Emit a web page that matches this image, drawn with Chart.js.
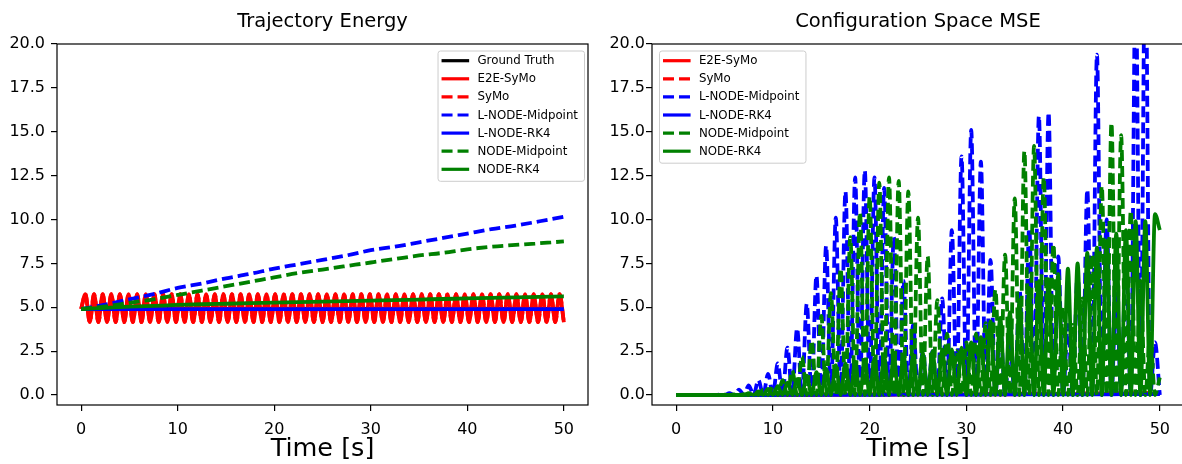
<!DOCTYPE html>
<html>
<head>
<meta charset="utf-8">
<script src="https://cdn.jsdelivr.net/npm/chart.js@4/dist/chart.umd.min.js"></script>
<style>
  body { margin: 0; background: #fff; width: 1182px; height: 464px; overflow: hidden; position: relative; }
  canvas { position: absolute; top: 0; }
  #energyChart { left: 0; }
  #mseChart { left: 591px; }
</style>
</head>
<body>
<canvas id="energyChart" width="591" height="464"></canvas>
<canvas id="mseChart" width="595" height="464"></canvas>
<script>
//* DATA *//
let xTicks = [0, 10, 20, 30, 40, 50];
let yTicks = [0, 2.5, 5, 7.5, 10, 12.5, 15, 17.5, 20];

// coarse time grid for the smooth curves
let tCoarse = [0, 2.5, 5, 7.5, 10, 12.5, 15, 17.5, 20, 22.5, 25, 27.5, 30, 32.5, 35, 37.5, 40, 42.5, 45, 47.5, 50];

// Trajectory Energy
let groundTruthEnergy = [4.9, 4.9, 4.9, 4.9, 4.9, 4.9, 4.9, 4.9, 4.9, 4.9, 4.9, 4.9, 4.9, 4.9, 4.9, 4.9, 4.9, 4.9, 4.9, 4.9, 4.9];
let lnodeRk4Energy = [4.89, 4.89, 4.89, 4.89, 4.89, 4.89, 4.89, 4.89, 4.89, 4.89, 4.89, 4.89, 4.89, 4.89, 4.89, 4.89, 4.89, 4.89, 4.89, 4.89, 4.89];
let lnodeMidEnergy = [4.9, 5.15, 5.45, 5.75, 6.1, 6.35, 6.65, 6.9, 7.2, 7.45, 7.7, 7.95, 8.25, 8.45, 8.7, 8.95, 9.2, 9.45, 9.65, 9.9, 10.15];
let nodeMidEnergy = [4.9, 5.05, 5.25, 5.45, 5.7, 5.95, 6.2, 6.45, 6.7, 6.95, 7.15, 7.35, 7.55, 7.75, 7.95, 8.1, 8.3, 8.45, 8.55, 8.65, 8.75];
let nodeRk4Energy = [4.9, 4.97, 5.03, 5.08, 5.13, 5.17, 5.2, 5.23, 5.26, 5.29, 5.32, 5.35, 5.38, 5.41, 5.44, 5.47, 5.5, 5.53, 5.56, 5.59, 5.62];

// E2E-SyMo energy swings, one value per half period (peak / trough)
let e2eEnergy = [4.9,
  5.75, 4.15, 5.75, 4.15, 5.75, 4.15, 5.75, 4.15, 5.75, 4.15,
  5.75, 4.15, 5.75, 4.15, 5.75, 4.15, 5.75, 4.15, 5.75, 4.15,
  5.75, 4.15, 5.75, 4.15, 5.75, 4.15, 5.75, 4.15, 5.75, 4.15,
  5.75, 4.15, 5.75, 4.15, 5.75, 4.15, 5.75, 4.15, 5.75, 4.15,
  5.75, 4.15, 5.75, 4.15, 5.75, 4.15, 5.75, 4.15, 5.75, 4.15,
  5.75, 4.15, 5.75, 4.15, 5.75, 4.15, 5.75, 4.15, 5.75, 4.15,
  5.75, 4.15, 5.75, 4.15, 5.75, 4.15, 5.75, 4.15, 5.75, 4.15,
  5.75, 4.15, 5.75, 4.15, 5.75, 4.15, 5.75, 4.15, 5.75, 4.15,
  5.75, 4.15, 5.75, 4.15, 5.75, 4.15, 5.75, 4.15, 5.75, 4.15,
  5.75, 4.15, 5.75, 4.15, 5.75, 4.15, 5.75, 4.15, 5.75, 4.15,
  5.75, 4.15, 5.75, 4.15, 5.75, 4.15, 5.75, 4.15, 5.75, 4.15,
  5.75, 4.15
];
let symoEnergy = e2eEnergy;
let tEnergySwing = e2eEnergy.map((v, i) => i * 50 / (e2eEnergy.length - 1));

// Configuration Space MSE, half-second samples (peaks and troughs)
let tMse = [];
for (let i = 0; i <= 100; i++) { tMse.push(i * 0.5); }

let lnodeMidMse = [
  0, 0, 0, 0, 0, 0, 0, 0, 0, 0.02,
  0, 0.1, 0, 0.3, 0, 0.55, 0, 0.85, 0, 1.2,
  0, 1.8, 0, 2.7, 0, 3.8, 0, 5.2, 0, 6.8,
  0, 8.5, 0, 10.1, 0, 11.6, 0, 12.4, 0, 12.8,
  0, 12.4, 0, 11.8, 0, 9.0, 0, 6.5, 0, 4.0,
  0, 2.5, 0, 2.5, 0, 5.5, 0, 9.4, 0, 13.6,
  0, 15.1, 0, 13.3, 0, 7.7, 0, 4.0, 0, 3.0,
  0, 6.0, 0, 9.5, 0, 15.9, 0, 16.1, 0, 7.9,
  0, 4.0, 0, 7.0, 0, 11.7, 0, 19.4, 0, 10.0,
  0, 6.0, 0, 8.0, 0, 24.0, 0, 26.0, 0, 3.0,
  0
];
let nodeMidMse = [
  0, 0, 0, 0, 0, 0, 0, 0, 0, 0,
  0.02, 0, 0.03, 0, 0.05, 0, 0.15, 0, 0.3, 0,
  0.5, 0, 0.85, 0, 1.4, 0, 2.2, 0, 3.1, 0,
  4.5, 0, 5.8, 0, 7.2, 0, 9.0, 0, 10.4, 0,
  11.3, 0, 12.1, 0, 12.4, 0, 12.2, 0, 11.6, 0,
  10.1, 0, 7.9, 0, 5.4, 0, 3.5, 0, 2.5, 0,
  3.0, 0, 3.5, 0, 4.1, 0, 6.0, 0, 8.0, 0,
  11.2, 0, 13.9, 0, 14.2, 0, 12.4, 0, 8.6, 0,
  5.0, 0, 4.0, 0, 5.5, 0, 8.0, 0, 11.9, 0,
  15.5, 0, 14.8, 0, 10.5, 0, 6.5, 0, 3.5, 0,
  1.0
];
let nodeRk4Mse = [
  0, 0, 0, 0, 0, 0, 0, 0, 0, 0,
  0, 0, 0, 0, 0, 0.1, 0, 0.2, 0, 0.35,
  0, 0.5, 0, 0.7, 0, 0.9, 0, 1.1, 0, 1.3,
  0, 1.5, 0, 1.7, 0, 1.8, 0, 1.9, 0, 2.0,
  0, 2.1, 0, 2.2, 0, 2.2, 0, 2.3, 0, 2.3,
  0, 2.4, 0, 2.5, 0, 2.6, 0, 2.6, 0, 2.7,
  0, 3.0, 0, 3.3, 0, 4.2, 0, 4.4, 0, 4.7,
  0, 5.4, 0, 6.1, 0, 6.5, 0, 6.6, 0, 6.9,
  0, 7.2, 0, 7.5, 0, 8.1, 0, 8.4, 0, 8.8,
  0, 9.2, 0, 9.4, 0, 9.9, 0, 9.9, 0, 10.3,
  9.4
];
let e2eMse = [0, 0, 0, 0, 0.01, 0.01, 0.01, 0.02, 0.02, 0.02, 0.03, 0.03, 0.03, 0.04, 0.04, 0.05, 0.05, 0.05, 0.06, 0.06, 0.07];
let symoMse = [0, 0, 0.01, 0.01, 0.02, 0.02, 0.03, 0.03, 0.04, 0.04, 0.05, 0.05, 0.06, 0.06, 0.07, 0.08, 0.08, 0.09, 0.1, 0.11, 0.12];
let lnodeRk4Mse = [0, 0, 0, 0, 0, 0.01, 0.01, 0.01, 0.01, 0.02, 0.02, 0.02, 0.02, 0.03, 0.03, 0.03, 0.04, 0.04, 0.04, 0.05, 0.05];

//* STYLE *//
let FONT = '"DejaVu Sans", sans-serif';
let RED = '#ff0000';
let BLUE = '#0000ff';
let GREEN = '#008000';
let BLACK = '#000000';

//* HELPERS *//
function makeSet(label, times, values, color, dashed, order) {
  return {
    label: label,
    data: values.map((v, i) => ({ x: times[i], y: v })),
    borderColor: color,
    backgroundColor: color,
    borderWidth: 3.8,
    borderDash: dashed ? [11, 5] : [],
    borderJoinStyle: 'round',
    cubicInterpolationMode: 'monotone',
    pointRadius: 0,
    fill: false,
    order: order,
    clip: 0
  };
}

function makeScales(yWidth, yPad) {
  let tickGrid = { display: true, drawOnChartArea: false, drawTicks: true, tickLength: 6, color: BLACK, lineWidth: 1.2 };
  return {
    x: {
      type: 'linear',
      min: -2.5,
      max: 52.5,
      afterBuildTicks: s => { s.ticks = xTicks.map(v => ({ value: v })); },
      afterFit: s => { s.height = 59; },
      grid: tickGrid,
      border: { display: false },
      ticks: { font: { family: FONT, size: 16 }, color: BLACK, padding: 9, maxRotation: 0, autoSkip: false },
      title: { display: true, text: 'Time [s]', color: BLACK, font: { family: FONT, size: 25.5, lineHeight: 1 }, padding: { top: 0, bottom: 2.3 } }
    },
    y: {
      type: 'linear',
      min: -0.57,
      max: 20,
      afterBuildTicks: s => { s.ticks = yTicks.map(v => ({ value: v })); },
      afterFit: s => { s.width = yWidth; },
      grid: tickGrid,
      border: { display: false },
      ticks: { font: { family: FONT, size: 16 }, color: BLACK, padding: yPad, callback: v => v.toFixed(1) }
    }
  };
}

//* PLUGINS *//
let axesFrame = {
  id: 'axesFrame',
  afterDatasetsDraw(chart) {
    let ctx = chart.ctx;
    let a = chart.chartArea;
    ctx.save();
    ctx.strokeStyle = BLACK;
    ctx.lineWidth = 1.2;
    ctx.strokeRect(a.left, a.top, a.right - a.left, a.bottom - a.top);
    ctx.restore();
  }
};

let mplLegend = {
  id: 'mplLegend',
  afterDatasetsDraw(chart, args, opts) {
    let ctx = chart.ctx;
    let a = chart.chartArea;
    let sets = chart.data.datasets;
    let rowH = 18.1;
    ctx.save();
    ctx.font = '11.8px ' + FONT;
    let textW = Math.max(...sets.map(d => ctx.measureText(d.label).width));
    let w = 4 + 27.6 + 8.3 + textW + 6;
    let h = 10.7 + (sets.length - 1) * rowH + 11;
    let left = opts.side === 'right' ? a.right - 4 - w : a.left + 7;
    let top = a.top + 6.5;

    ctx.beginPath();
    ctx.roundRect(left + 0.5, top + 0.5, w, h, 2.5);
    ctx.fillStyle = 'rgba(255,255,255,0.8)';
    ctx.fill();
    ctx.strokeStyle = '#cccccc';
    ctx.lineWidth = 1;
    ctx.stroke();

    sets.forEach((d, i) => {
      let cy = top + 10.2 + i * rowH;
      ctx.beginPath();
      ctx.setLineDash(d.borderDash);
      ctx.strokeStyle = d.borderColor;
      ctx.lineWidth = 3.2;
      ctx.moveTo(left + 4, cy);
      ctx.lineTo(left + 4 + 27.6, cy);
      ctx.stroke();
      ctx.setLineDash([]);
      ctx.fillStyle = BLACK;
      ctx.textBaseline = 'middle';
      ctx.textAlign = 'left';
      ctx.fillText(d.label, left + 4 + 27.6 + 8.3, cy + 0.5);
    });
    ctx.restore();
  }
};

let axTitle = {
  id: 'axTitle',
  afterDraw(chart, args, opts) {
    let ctx = chart.ctx;
    let a = chart.chartArea;
    ctx.save();
    ctx.font = '19.5px ' + FONT;
    ctx.fillStyle = BLACK;
    ctx.textAlign = 'center';
    ctx.textBaseline = 'alphabetic';
    ctx.fillText(opts.text, (a.left + a.right) / 2, 27.3);
    ctx.restore();
  }
};

function makeOptions(titleText, legendSide, yWidth, yPad, padRight) {
  return {
    responsive: false,
    devicePixelRatio: 1,
    animation: false,
    layout: { padding: { top: 44, right: padRight, left: 0, bottom: 0 } },
    scales: makeScales(yWidth, yPad),
    plugins: {
      legend: { display: false },
      title: { display: false },
      tooltip: { enabled: false },
      mplLegend: { side: legendSide },
      axTitle: { text: titleText }
    }
  };
}

//* CHARTS *//
let energySets = [
  makeSet('Ground Truth', tCoarse, groundTruthEnergy, BLACK, false, 6),
  makeSet('E2E-SyMo', tEnergySwing, e2eEnergy, RED, false, 5),
  makeSet('SyMo', tEnergySwing, symoEnergy, RED, true, 4),
  makeSet('L-NODE-Midpoint', tCoarse, lnodeMidEnergy, BLUE, true, 3),
  makeSet('L-NODE-RK4', tCoarse, lnodeRk4Energy, BLUE, false, 2),
  makeSet('NODE-Midpoint', tCoarse, nodeMidEnergy, GREEN, true, 1),
  makeSet('NODE-RK4', tCoarse, nodeRk4Energy, GREEN, false, 0)
];

let mseSets = [
  makeSet('E2E-SyMo', tCoarse, e2eMse, RED, false, 5),
  makeSet('SyMo', tCoarse, symoMse, RED, true, 4),
  makeSet('L-NODE-Midpoint', tMse, lnodeMidMse, BLUE, true, 3),
  makeSet('L-NODE-RK4', tCoarse, lnodeRk4Mse, BLUE, false, 2),
  makeSet('NODE-Midpoint', tMse, nodeMidMse, GREEN, true, 1),
  makeSet('NODE-RK4', tMse, nodeRk4Mse, GREEN, false, 0)
];

new Chart(document.getElementById('energyChart'), {
  type: 'line',
  data: { datasets: energySets },
  options: makeOptions('Trajectory Energy', 'right', 57, 6, 3),
  plugins: [axesFrame, mplLegend, axTitle]
});

new Chart(document.getElementById('mseChart'), {
  type: 'line',
  data: { datasets: mseSets },
  options: makeOptions('Configuration Space MSE', 'left', 61, 1, 2),
  plugins: [axesFrame, mplLegend, axTitle]
});
</script>
</body>
</html>
